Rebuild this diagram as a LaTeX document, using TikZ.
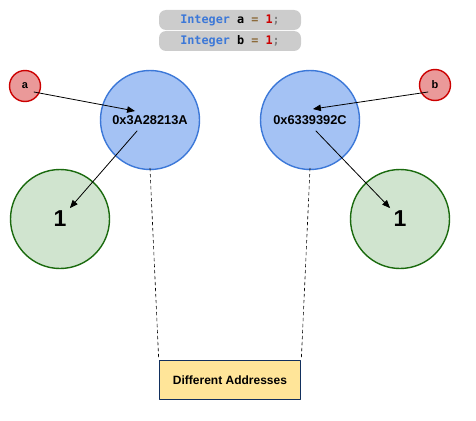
\documentclass[tikz,border=0pt]{standalone}
\usepackage{fontspec}
\setmainfont{Liberation Sans}
\newfontfamily\codefont{DejaVu Sans Mono}
\usepackage{pgf,tikz}
\usetikzlibrary{arrows}
\definecolor{refill}{HTML}{EA9999}
\definecolor{reline}{HTML}{CC0000}
\definecolor{blfill}{HTML}{A4C2F4}
\definecolor{blline}{HTML}{3C78D8}
\definecolor{grfill}{HTML}{D0E4CF}
\definecolor{grline}{HTML}{1A6A0E}
\definecolor{ylfill}{HTML}{FFE599}
\definecolor{nvline}{HTML}{12305E}
\definecolor{cdgray}{HTML}{CCCCCC}
\definecolor{kwblue}{HTML}{3C78D8}
\definecolor{opbrown}{HTML}{8C6A3A}
\tikzset{
  varnode/.style={circle,draw=reline,fill=refill,line width=1.4pt,minimum size=31pt,inner sep=0pt,font=\bfseries\fontsize{11}{13}\selectfont},
  memnode/.style={circle,draw=blline,fill=blfill,line width=1.4pt,minimum size=99pt,inner sep=0pt,font=\bfseries\fontsize{12.8}{14}\selectfont},
  valnode/.style={circle,draw=grline,fill=grfill,line width=1.4pt,minimum size=99pt,inner sep=0pt,font=\bfseries\fontsize{23}{26}\selectfont},
  codenode/.style={rounded corners=7pt,fill=cdgray,minimum width=142pt,minimum height=20pt,inner sep=0pt,font=\codefont\bfseries\fontsize{11.8}{13}\selectfont},
  notenode/.style={draw=nvline,fill=ylfill,line width=1.6pt,minimum width=141pt,minimum height=39pt,inner sep=0pt,font=\bfseries\fontsize{12}{14}\selectfont}
}
\begin{document}
\begin{tikzpicture}[line cap=round,line join=round,>=triangle 45,x=1pt,y=-1pt]
        \useasboundingbox (0,0) rectangle (476,420);
        % code lines
        \node[codenode] (codea) at (230,20) {\textcolor{kwblue}{Integer} a \textcolor{opbrown}{=} \textcolor{reline}{1}\textcolor{gray};};
        \node[codenode] (codeb) at (230,41) {\textcolor{kwblue}{Integer} b \textcolor{opbrown}{=} \textcolor{reline}{1}\textcolor{gray};};
        % variables, addresses, values
        \node[varnode] (a) at (25,86) {a};
        \node[varnode] (b) at (435,85) {b};
        \node[memnode] (mema) at (150,120) {0x3A28213A};
        \node[memnode] (memb) at (310,120) {0x6339392C};
        \node[valnode] (vala) at (60,219) {1};
        \node[valnode] (valb) at (400,219) {1};
        \node[notenode] (note) at (230,380) {Different Addresses};
        % references
        \draw[->,color=black,line width=0.8pt] ([shift={(9,6)}]a.center) -- ([shift={(-15,-9)}]mema.center);
        \draw[->,color=black,line width=0.8pt] ([shift={(-7,7)}]b.center) -- ([shift={(3,-11)}]memb.center);
        \draw[->,color=black,line width=0.8pt] ([shift={(-13,11)}]mema.center) -- ([shift={(10,-11)}]vala.center);
        \draw[->,color=black,line width=0.8pt] ([shift={(6,11)}]memb.center) -- ([shift={(-10,-11)}]valb.center);
        \draw[dashed,color=black,line width=0.6pt] ([yshift=2pt]mema.south) -- (note.north west);
        \draw[dashed,color=black,line width=0.6pt] ([yshift=2pt]memb.south) -- (note.north east);
      \end{tikzpicture}
\end{document}
